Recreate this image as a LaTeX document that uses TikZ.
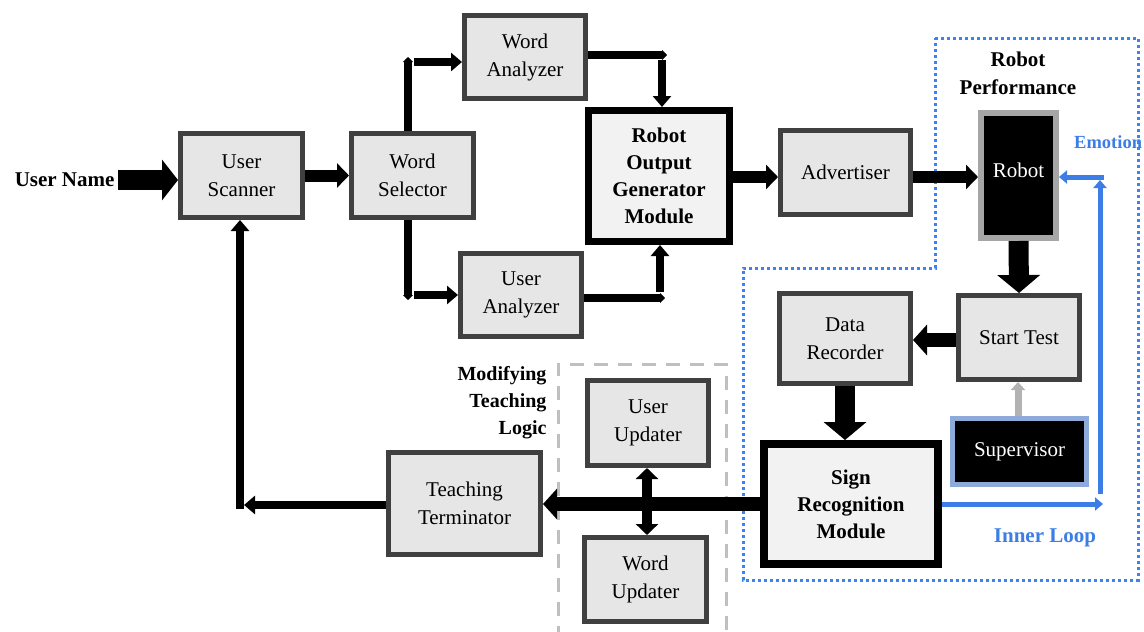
\documentclass[tikz,border=0pt]{standalone}
\usepackage{fontspec}
\setmainfont{Liberation Serif}
\usetikzlibrary{arrows.meta}
\definecolor{boxfill}{HTML}{E6E6E6}
\definecolor{modfill}{HTML}{F2F2F2}
\definecolor{boxedge}{HTML}{404040}
\definecolor{robotedge}{HTML}{A6A6A6}
\definecolor{supedge}{HTML}{8EAADB}
\definecolor{loopblue}{HTML}{3C7EE6}
\definecolor{regionblue}{HTML}{3C82F0}
\definecolor{groupgray}{HTML}{BFBFBF}
\begin{document}
\begin{tikzpicture}[x=1pt,y=-1pt,
  txt/.style={font=\fontsize{21}{28}\selectfont, align=center},
  blk/.style={txt, draw=boxedge, line width=5pt, fill=boxfill, inner sep=0pt},
  module/.style={blk, draw=black, line width=8pt, fill=modfill, font=\bfseries\fontsize{21}{27}\selectfont},
  darkbox/.style={txt, fill=black, text=white, inner sep=0pt},
  lbl/.style={font=\bfseries\fontsize{21}{28}\selectfont, align=center},
  bluelbl/.style={lbl, text=loopblue},
  arrXL/.style={line width=20pt, -{Triangle[length=18pt,width=42pt]}},
  arrL/.style={line width=14pt, -{Triangle[length=14pt,width=30pt]}},
  arrA/.style={line width=12pt, -{Triangle[length=12pt,width=24pt]}},
  arrM/.style={line width=8pt, -{Triangle[length=11pt,width=18pt]}},
  arrS/.style={line width=8pt, -{Triangle[length=5pt,width=10pt]}},
  bluearr/.style={line width=5pt, draw=loopblue, -{Triangle[length=8pt,width=13pt]}},
]
\useasboundingbox (0,0) rectangle (1144,632);

% group outlines
\draw[regionblue, line width=3pt, dash pattern=on 3pt off 3pt]
  (935,38) -- (1138,38) -- (1138,580) -- (743,580) -- (743,268) -- (935,268) -- cycle;
\draw[groupgray, line width=3pt, dash pattern=on 14pt off 10pt]
  (558,640) -- (558,364) -- (726,364) -- (726,640);

% blocks
\node[blk, minimum width=122pt, minimum height=84pt] (us) at (241.5,175.5) {User\\Scanner};
\node[blk, minimum width=122pt, minimum height=84pt] (ws) at (412.5,175.5) {Word\\Selector};
\node[blk, minimum width=121pt, minimum height=83pt] (wa) at (525,57) {Word\\Analyzer};
\node[blk, minimum width=121pt, minimum height=83pt] (ua) at (521,295) {User\\Analyzer};
\node[module, line width=7pt, minimum width=141pt, minimum height=131pt] (rog) at (659,176) {Robot\\Output\\Generator\\Module};
\node[blk, minimum width=130pt, minimum height=84pt] (adv) at (845.5,172.5) {Advertiser};
\node[darkbox, draw=robotedge, line width=6pt, minimum width=75pt, minimum height=125pt] (rb) at (1018.5,175.5) {\raisebox{10pt}{Robot}};
\node[blk, minimum width=121pt, minimum height=84pt] (st) at (1019,337.5) {Start Test};
\node[blk, minimum width=131pt, minimum height=90pt] (dr) at (845,338.5) {Data\\Recorder};
\node[darkbox, draw=supedge, line width=5pt, minimum width=134pt, minimum height=66pt] (sv) at (1019.5,451.5) {Supervisor};
\node[module, minimum width=174pt, minimum height=120pt] (sr) at (851,504) {Sign\\Recognition\\Module};
\node[blk, minimum width=121pt, minimum height=85pt] (uu) at (648,423) {User\\Updater};
\node[blk, minimum width=122pt, minimum height=84pt] (wu) at (645.5,579.5) {Word\\Updater};
\node[blk, minimum width=152pt, minimum height=102pt] (tt) at (464.5,503.5) {Teaching\\Terminator};

% labels
\node[lbl, anchor=east] (un) at (118,180) {User Name};
\node[lbl] (rp) at (1018,73) {Robot\\Performance};
\node[bluelbl, anchor=west, inner sep=0pt, font=\bfseries\fontsize{18.5}{20}\selectfont] (emo) at (1074,142) {Emotion};
\node[bluelbl] (il) at (1045,538) {Inner Loop};
\node[lbl, align=right, anchor=east, font=\bfseries\fontsize{20}{27}\selectfont] (mtl) at (550,403) {Modifying\\Teaching\\Logic};

% corner points of the routed connectors
\coordinate (wsUp) at (408,57);
\coordinate (wsUpH) at (414,62);
\coordinate (wsDn) at (408,300);
\coordinate (wsDnH) at (414,295);
\coordinate (waR) at (667,55);
\coordinate (waV) at (662,60);
\coordinate (uaR) at (665,298);
\coordinate (uaV) at (660,292);
\coordinate (ttL) at (244,505);
\coordinate (ttC) at (240,509);
\coordinate (bl1) at (1103,504);
\coordinate (bl2) at (1100,494);
\coordinate (bl3) at (1100,180);
\coordinate (bl4) at (1104,177);

% main flow
\draw[line width=20pt, -{Triangle[length=16pt,width=40pt]}] (un.east) -- (un.east -| us.west);
\draw[arrA] (us.east) -- (ws.west);
\draw[arrS] ([xshift=-4.5pt]ws.north) -- (wsUp);
\draw[arrM] (wsUpH) -- (wsUpH -| wa.west);
\draw[arrS] ([xshift=-4.5pt]ws.south) -- (wsDn);
\draw[arrM] (wsDnH) -- (wsDnH -| ua.west);
\draw[arrS] (waR -| wa.east) -- (waR);
\draw[arrM] (waV) -- (waV |- rog.north);
\draw[arrS] (uaR -| ua.east) -- (uaR);
\draw[arrM] (uaV) -- (uaV |- rog.south);
\draw[arrA] (rog.east |- 0,177) -- (adv.west |- 0,177);
\draw[arrA] (adv.east |- 0,177) -- (rb.west |- 0,177);
\draw[arrXL] (rb.south) -- (st.north);
\draw[arrL] (st.west |- 0,340) -- (dr.east |- 0,340);
\draw[arrXL] (dr.south) -- (sr.north -| dr.south);
\draw[line width=7pt, groupgray!80!gray, -{Triangle[length=8pt,width=14pt]}] (sv.north -| 1018,0) -- (st.south -| 1018,0);
\draw[arrL] (sr.west) -- (tt.east |- sr.west);
\draw[line width=10pt, {Triangle[length=11pt,width=22pt]}-{Triangle[length=11pt,width=22pt]}] (uu.south -| 647,0) -- (wu.north -| 647,0);
\draw[arrM] (tt.west |- ttL) -- (ttL);
\draw[arrM] (ttC) -- (ttC |- us.south);

% inner loop
\draw[bluearr] (sr.east) -- (bl1);
\draw[bluearr] (bl2) -- (bl3);
\draw[bluearr] (bl4) -- (rb.east |- bl4);
\end{tikzpicture}
\end{document}
